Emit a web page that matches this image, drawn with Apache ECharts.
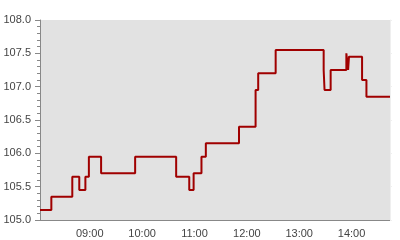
<!DOCTYPE html>
<html>
<head>
<meta charset="utf-8">
<script src="https://cdn.jsdelivr.net/npm/echarts@6/dist/echarts.min.js"></script>
<style>html,body{margin:0;padding:0;background:#fff}#c{width:400px;height:240px}</style>
</head>
<body>
<div id="c"></div>
<script>
var day = '2024-01-02 ';
var times = ['08:03','08:16','08:40','08:48','08:55','08:59','09:13','09:52','10:39','10:54','10:59','11:08','11:13','11:51','12:10','12:13','12:33','13:28','13:29','13:36','13:54','13:56','13:57','14:12','14:17','14:44'];
var values = [105.15,105.35,105.65,105.45,105.65,105.95,105.7,105.95,105.65,105.45,105.7,105.95,106.15,106.4,106.95,107.2,107.55,107.25,106.95,107.25,107.5,107.25,107.45,107.1,106.85,106.85];
var yTicks = ['105.0','105.5','106.0','106.5','107.0','107.5','108.0'];

var data = times.map(function(t, i){ return [day + t, values[i]]; });
var chart = echarts.init(document.getElementById('c'), null, {renderer:'canvas'});
chart.setOption({
  animation: false,
  grid: {left: 40, right: 10, top: 20, bottom: 20, show: true, backgroundColor: '#e2e2e2', borderWidth: 0},
  xAxis: {
    type: 'time',
    min: day + times[0], max: day + times[times.length-1],
    minInterval: 3600000, maxInterval: 3600000,
    axisLine: {show: true, lineStyle: {color: '#888', width: 1}},
    axisTick: {show: false},
    splitLine: {show: false},
    axisLabel: {color: '#444', fontSize: 11, fontFamily: 'Arial, Liberation Sans, sans-serif', margin: 8,
      formatter: '{HH}:{mm}', showMinLabel: false, showMaxLabel: false, hideOverlap: false}
  },
  yAxis: [{
    type: 'value', min: 105, max: 108, interval: 0.5, position: 'left',
    axisLine: {show: true, lineStyle: {color: '#888', width: 1}},
    axisTick: {show: true, length: 5, lineStyle: {color: '#888'}},
    minorTick: {show: true, splitNumber: 5, length: 3, lineStyle: {color: '#888'}},
    splitLine: {show: false},
    axisLabel: {color: '#444', fontSize: 11, fontFamily: 'Arial, Liberation Sans, sans-serif', margin: 9,
      formatter: function(v){ return yTicks[Math.round((v-105)/0.5)] || v.toFixed(1); }}
  }, {
    type: 'value', min: 105, max: 108, interval: 0.5, position: 'right',
    axisLine: {show: true, lineStyle: {color: '#efefef', width: 1}},
    axisTick: {show: true, length: 2, lineStyle: {color: '#efefef'}},
    splitLine: {show: false},
    axisLabel: {show: false}
  }],
  series: [{
    type: 'line', step: 'end', data: data, showSymbol: false, symbol: 'none',
    lineStyle: {color: '#a00000', width: 2}
  }]
});
</script>
</body>
</html>
